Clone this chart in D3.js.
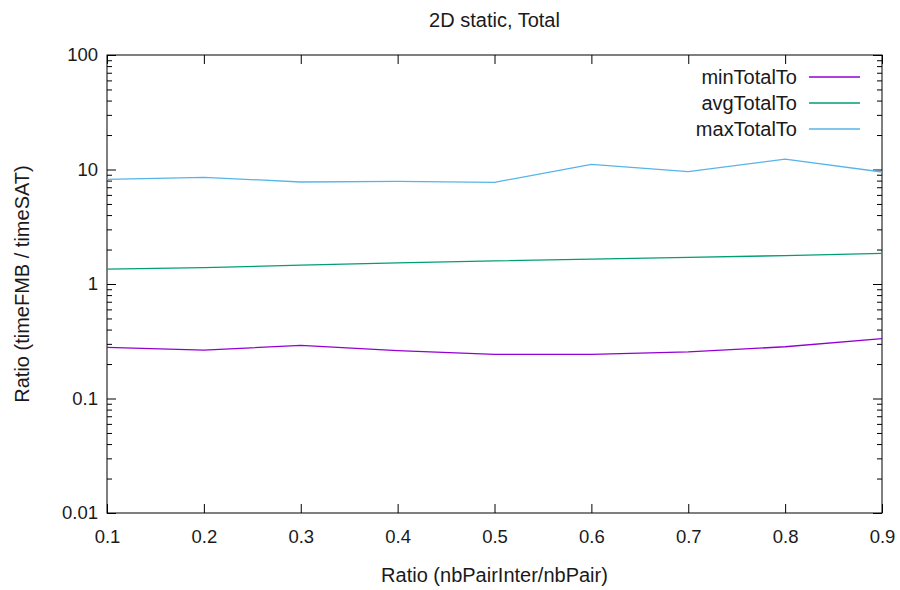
<!DOCTYPE html>
<html>
<head>
<meta charset="utf-8">
<script src="https://cdn.jsdelivr.net/npm/d3@7"></script>
<style>
  body { margin: 0; background: #fff; }
  svg { display: block; }
  text { font-family: "Liberation Sans", Arial, sans-serif; fill: #1a1a1a; }
</style>
</head>
<body>
<svg id="chart" width="900" height="590"></svg>
<script>
const ratios = [0.1, 0.2, 0.3, 0.4, 0.5, 0.6, 0.7, 0.8, 0.9];
const minTotalTo = [0.280, 0.265, 0.291, 0.262, 0.243, 0.243, 0.255, 0.283, 0.333];
const avgTotalTo = [1.35, 1.39, 1.46, 1.53, 1.59, 1.65, 1.71, 1.77, 1.85];
const maxTotalTo = [8.2, 8.55, 7.78, 7.89, 7.73, 11.1, 9.57, 12.3, 9.51];
const seriesNames = ["minTotalTo", "avgTotalTo", "maxTotalTo"];
const seriesColors = ["#9400d3", "#009e73", "#56b4e9"];
const xTicks = [0.1, 0.2, 0.3, 0.4, 0.5, 0.6, 0.7, 0.8, 0.9];
const yTicks = [0.01, 0.1, 1, 10, 100];
const yTickLabels = ["0.01", "0.1", "1", "10", "100"];
const title = "2D static, Total";
const xLabel = "Ratio (nbPairInter/nbPair)";
const yLabel = "Ratio (timeFMB / timeSAT)";

const svg = d3.select("#chart");
const pL = 107, pR = 882, pT = 55, pB = 513;
const x = d3.scaleLinear().domain([0.1, 0.9]).range([pL, pR]);
const y = d3.scaleLog().domain([0.01, 100]).range([pB, pT]);

const minor = [];
for (let d = 0.01; d < 100; d *= 10) {
  for (let k = 2; k <= 9; k++) minor.push(+(d * k).toPrecision(3));
}

const fs = "18.5px";
const fmtY = v => yTickLabels[yTicks.indexOf(v)];

function style(g) {
  g.select(".domain").remove();
  g.selectAll("line").attr("stroke", "#000").attr("stroke-width", 1);
  g.selectAll("text").style("font-size", fs).attr("fill", "#1a1a1a");
}

// Y axes (left + mirrored right)
svg.append("g").attr("transform", `translate(${pL},0)`)
  .call(d3.axisLeft(y).tickValues(yTicks).tickFormat(fmtY).tickSize(-9).tickPadding(9)).call(style);
svg.append("g").attr("transform", `translate(${pL},0)`)
  .call(d3.axisLeft(y).tickValues(minor).tickFormat("").tickSize(-5)).call(style);
svg.append("g").attr("transform", `translate(${pR},0)`)
  .call(d3.axisRight(y).tickValues(yTicks).tickFormat("").tickSize(-9)).call(style);
svg.append("g").attr("transform", `translate(${pR},0)`)
  .call(d3.axisRight(y).tickValues(minor).tickFormat("").tickSize(-5)).call(style);

// X axes (bottom + mirrored top)
svg.append("g").attr("transform", `translate(0,${pB})`)
  .call(d3.axisBottom(x).tickValues(xTicks).tickFormat(d3.format(".1f")).tickSize(-9).tickPadding(17)).call(style);
svg.append("g").attr("transform", `translate(0,${pT})`)
  .call(d3.axisTop(x).tickValues(xTicks).tickFormat("").tickSize(-9)).call(style);

// Border
svg.append("rect").attr("x", pL).attr("y", pT).attr("width", pR - pL).attr("height", pB - pT)
  .attr("fill", "none").attr("stroke", "#000").attr("stroke-width", 1);

// Lines
const data = [minTotalTo, avgTotalTo, maxTotalTo];
const line = d3.line().x((d, i) => x(ratios[i])).y(d => y(d));
data.forEach((vals, i) => {
  svg.append("path").datum(vals).attr("d", line)
    .attr("fill", "none").attr("stroke", seriesColors[i]).attr("stroke-width", 1.3);
});

// Legend
seriesNames.forEach((name, i) => {
  const yy = 77 + i * 26;
  svg.append("text").attr("x", 797).attr("y", yy).attr("dy", "0.35em")
    .attr("text-anchor", "end").style("font-size", "20px").text(name);
  svg.append("line").attr("x1", 809).attr("x2", 860).attr("y1", yy).attr("y2", yy)
    .attr("stroke", seriesColors[i]).attr("stroke-width", 1.3);
});

// Title and axis labels
svg.append("text").attr("x", (pL + pR) / 2).attr("y", 27).attr("text-anchor", "middle")
  .style("font-size", "20px").text(title);
svg.append("text").attr("x", (pL + pR) / 2).attr("y", 582).attr("text-anchor", "middle")
  .style("font-size", "20px").text(xLabel);
svg.append("text").attr("transform", `translate(29,${(pT + pB) / 2}) rotate(-90)`)
  .attr("text-anchor", "middle").style("font-size", "20px").text(yLabel);
</script>
</body>
</html>
